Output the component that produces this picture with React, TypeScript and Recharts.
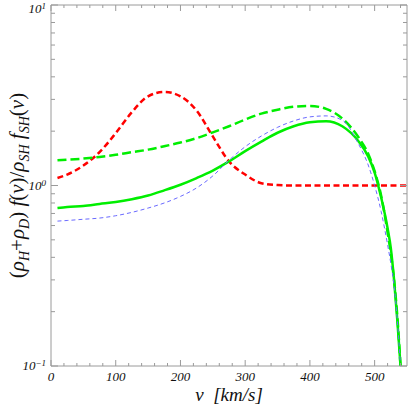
import React from "react";
import { LineChart, Line, XAxis, YAxis } from "recharts";

// speed grid, km/s
const speeds = [
  10, 25, 50, 75, 100, 125, 150, 175, 200, 225, 250, 275, 300, 325, 350, 375,
  400, 425, 450, 475, 490, 500, 510, 520, 525, 530, 535, 540, 545, 550,
];

const redDashed = [
  1.1, 1.15, 1.29, 1.53, 1.95, 2.55, 3.12, 3.3, 3.12, 2.6, 1.87, 1.36, 1.15,
  1.03, 1.005, 1.0, 1.0, 1.0, 1.0, 1.0, 1.0, 1.0, 1.0, 1.0, 1.0, 1.0, 1.0, 1.0,
  1.0, 1.0,
];

const greenDashed = [
  1.38, 1.39, 1.41, 1.44, 1.48, 1.53, 1.58, 1.65, 1.73, 1.83, 1.97, 2.13, 2.32,
  2.5, 2.63, 2.73, 2.76, 2.66, 2.35, 1.85, 1.5, 1.2, 0.88, 0.55, 0.42, 0.3,
  0.19, 0.1, null, null,
];

const greenSolid = [
  0.75, 0.76, 0.77, 0.79, 0.81, 0.84, 0.88, 0.94, 1.01, 1.1, 1.21, 1.36, 1.55,
  1.75, 1.96, 2.13, 2.24, 2.27, 2.13, 1.76, 1.45, 1.18, 0.86, 0.58, 0.45, 0.3,
  0.18, 0.1, null, null,
];

const blueThin = [
  0.635, 0.64, 0.65, 0.66, 0.68, 0.71, 0.75, 0.8, 0.87, 0.97, 1.13, 1.38, 1.64,
  1.88, 2.1, 2.28, 2.4, 2.43, 2.3, 1.7, 1.3, 1.0, 0.72, 0.47, 0.37, 0.28, 0.18,
  0.1, null, null,
];

const xTicks = [
  0, 20, 40, 60, 80, 100, 120, 140, 160, 180, 200, 220, 240, 260, 280, 300, 320,
  340, 360, 380, 400, 420, 440, 460, 480, 500, 520, 540,
];
const yTicks = [
  0.1, 0.2, 0.3, 0.4, 0.5, 0.6, 0.7, 0.8, 0.9, 1, 2, 3, 4, 5, 6, 7, 8, 9, 10,
];
const yMajor = [0.1, 1, 10];

const data = speeds.map((v, i) => ({
  v,
  red: redDashed[i],
  gDash: greenDashed[i],
  gSolid: greenSolid[i],
  blue: blueThin[i],
}));

const FRAME = "#9a9a9a";
const SERIF = "'Liberation Serif', 'DejaVu Serif', serif";

const BottomTick = (props: any) => {
  const { x, y, payload } = props;
  const major = payload.value % 100 === 0;
  return (
    <g>
      <line x1={x} x2={x} y1={y} y2={y - (major ? 6 : 3)} stroke={FRAME} />
      {major && (
        <text
          x={x}
          y={y + 15}
          textAnchor="middle"
          fontFamily={SERIF}
          fontStyle="italic"
          fontSize={13}
          fill="#111"
        >
          {payload.value}
        </text>
      )}
    </g>
  );
};

const TopTick = (props: any) => {
  const { x, y, payload } = props;
  const major = payload.value % 100 === 0;
  return <line x1={x} x2={x} y1={y} y2={y + (major ? 6 : 3)} stroke={FRAME} />;
};

const LeftTick = (props: any) => {
  const { x, y, payload } = props;
  const major = yMajor.includes(payload.value);
  const exp = Math.round(Math.log10(payload.value));
  return (
    <g>
      <line x1={x} x2={x + (major ? 7 : 4)} y1={y} y2={y} stroke={FRAME} />
      {major && (
        <text
          x={x - 5}
          y={Math.max(y, 9) + 4}
          textAnchor="end"
          fontFamily={SERIF}
          fontStyle="italic"
          fontSize={13}
          fill="#111"
        >
          10
          <tspan dy={-4} fontSize={9}>
            {exp < 0 ? "\u2212" + Math.abs(exp) : exp}
          </tspan>
        </text>
      )}
    </g>
  );
};

const RightTick = (props: any) => {
  const { x, y, payload } = props;
  const major = yMajor.includes(payload.value);
  return <line x1={x} x2={x - (major ? 7 : 4)} y1={y} y2={y} stroke={FRAME} />;
};

const XTitle = (props: any) => {
  const { viewBox } = props;
  const cx = viewBox ? viewBox.x + viewBox.width / 2 : 229;
  const by = viewBox ? viewBox.y + 35 : 401;
  return (
    <text
      x={cx}
      y={by}
      textAnchor="middle"
      fontFamily={SERIF}
      fontStyle="italic"
      fontSize={19}
      fill="#111"
    >
      v{"\u00a0\u00a0"}[km/s]
    </text>
  );
};

const YTitle = (props: any) => {
  const { viewBox } = props;
  const cy = viewBox ? viewBox.y + viewBox.height / 2 : 185;
  const bx = 24;
  const sub = { fontSize: 14, dy: 5 };
  return (
    <text
      transform={`translate(${bx},${cy}) rotate(-90)`}
      textAnchor="middle"
      fontFamily={SERIF}
      fontSize={21}
      fill="#111"
    >
      <tspan>(</tspan>
      <tspan fontStyle="italic">ρ</tspan>
      <tspan fontStyle="italic" {...sub}>H</tspan>
      <tspan dy={-5}>+</tspan>
      <tspan fontStyle="italic">ρ</tspan>
      <tspan fontStyle="italic" {...sub}>D</tspan>
      <tspan dy={-5}>)</tspan>
      <tspan fontStyle="italic"> f</tspan>
      <tspan>(</tspan>
      <tspan fontStyle="italic">v</tspan>
      <tspan>)/</tspan>
      <tspan fontStyle="italic">ρ</tspan>
      <tspan fontStyle="italic" {...sub}>SH</tspan>
      <tspan fontStyle="italic" dy={-5}> f</tspan>
      <tspan fontStyle="italic" {...sub}>SH</tspan>
      <tspan dy={-5}>(</tspan>
      <tspan fontStyle="italic">v</tspan>
      <tspan>)</tspan>
    </text>
  );
};

const App = () => {
  return (
    <div style={{ position: "absolute", left: 0, top: 0, background: "#fff" }}>
      <LineChart
        width={415}
        height={408}
        data={data}
        margin={{ top: 4, right: 7, bottom: 0, left: 0 }}
      >
        <XAxis
          dataKey="v"
          type="number"
          domain={[0, 550]}
          ticks={xTicks}
          interval={0}
          tickSize={0}
          tickMargin={0}
          tickLine={false}
          axisLine={{ stroke: FRAME }}
          tick={<BottomTick />}
          height={42}
          label={<XTitle />}
        />
        <XAxis
          xAxisId="top"
          dataKey="v"
          type="number"
          orientation="top"
          domain={[0, 550]}
          ticks={xTicks}
          interval={0}
          tickSize={0}
          tickMargin={0}
          tickLine={false}
          axisLine={{ stroke: FRAME }}
          tick={<TopTick />}
          height={1}
        />
        <YAxis
          scale="log"
          domain={[0.1, 10]}
          allowDataOverflow
          ticks={yTicks}
          interval={0}
          tickSize={0}
          tickMargin={0}
          tickLine={false}
          axisLine={{ stroke: FRAME }}
          tick={<LeftTick />}
          width={51}
          label={<YTitle />}
        />
        <YAxis
          yAxisId="right"
          orientation="right"
          scale="log"
          domain={[0.1, 10]}
          allowDataOverflow
          ticks={yTicks}
          interval={0}
          tickSize={0}
          tickMargin={0}
          tickLine={false}
          axisLine={{ stroke: FRAME }}
          tick={<RightTick />}
          width={1}
        />
        <Line
          type="monotone"
          dataKey="red"
          stroke="#ff0000"
          strokeWidth={2.5}
          strokeDasharray="6 3.5"
          dot={false}
          isAnimationActive={false}
        />
        <Line
          type="monotone"
          dataKey="gDash"
          stroke="#00ee00"
          strokeWidth={2.5}
          strokeDasharray="9 4"
          dot={false}
          isAnimationActive={false}
        />
        <Line
          type="monotone"
          dataKey="gSolid"
          stroke="#00ee00"
          strokeWidth={2.5}
          dot={false}
          isAnimationActive={false}
        />
        <Line
          type="monotone"
          dataKey="blue"
          stroke="#6a6aff"
          strokeWidth={1}
          strokeDasharray="4 3"
          dot={false}
          isAnimationActive={false}
        />
      </LineChart>
    </div>
  );
};

export default App;
